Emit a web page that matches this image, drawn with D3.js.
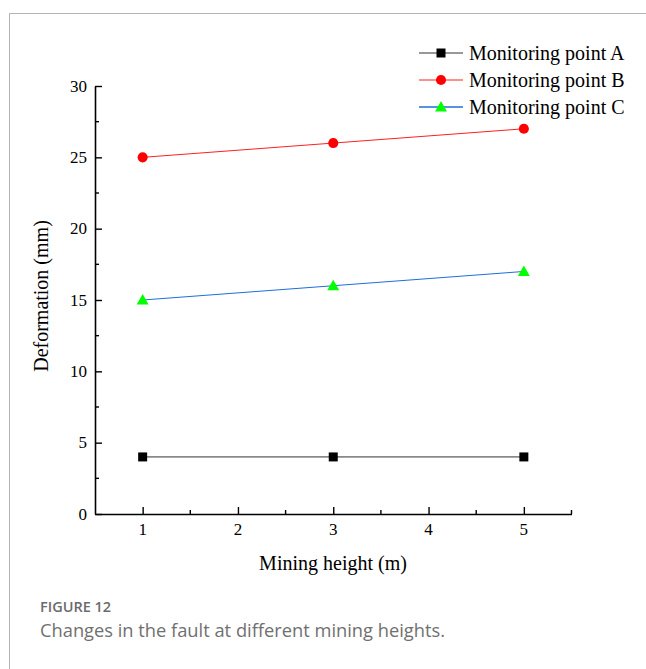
<!DOCTYPE html>
<html>
<head>
<meta charset="utf-8">
<script src="https://cdn.jsdelivr.net/npm/d3@7"></script>
<style>
  html, body { margin: 0; padding: 0; background: #fff; }
  svg { display: block; }
  .serif-text { font-family: "Liberation Serif", "Times New Roman", serif !important; }
</style>
</head>
<body>
<svg id="chart" width="646" height="669"></svg>
<script>
// Mining height (m) at which each monitoring point was measured
const heights = [1, 3, 5];
const seriesNames = ["Monitoring point A", "Monitoring point B", "Monitoring point C"];
const pointA = [4, 4, 4];
const pointB = [25, 26, 27];
const pointC = [15, 16, 17];
const xTicks = [1, 2, 3, 4, 5];
const yTicks = [0, 5, 10, 15, 20, 25, 30];

const svg = d3.select("#chart");
const serif = "Liberation Serif, Times New Roman, serif";
const sans = "Open Sans, Noto Sans, sans-serif";

// Figure frame (top and left border)
svg.append("path")
  .attr("d", "M9.5,669 V13.5 H646")
  .attr("fill", "none").attr("stroke", "#b3b3b3").attr("stroke-width", 1);

const x = d3.scaleLinear().domain([0.5, 5.5]).range([95, 571.5]);
const y = d3.scaleLinear().domain([0, 30]).range([514, 86]);

const series = [
  { name: seriesNames[0], values: pointA, line: "#333333", fill: "#000000", shape: d3.symbolSquare, size: 81 },
  { name: seriesNames[1], values: pointB, line: "#ff2020", fill: "#ff0000", shape: d3.symbolCircle, size: 80 },
  { name: seriesNames[2], values: pointC, line: "#1e6fd9", fill: "#00ff00", shape: d3.symbolTriangle, size: 62 }
];

// Axes with inward ticks; labels are written by hand below in the serif face
const xAxis = d3.axisBottom(x).tickValues(xTicks).tickSizeInner(-7).tickSizeOuter(0).tickFormat("");
const yAxis = d3.axisLeft(y).tickValues(yTicks).tickSizeInner(-7).tickSizeOuter(0).tickFormat("");

const gx = svg.append("g").attr("transform", `translate(0,${y(0)})`).call(xAxis);
const gy = svg.append("g").attr("transform", `translate(${x(0.5)},0)`).call(yAxis);

[gx, gy].forEach(g => {
  g.select(".domain").attr("stroke", "#000").attr("stroke-width", 1.6);
  g.selectAll(".tick line").attr("stroke", "#000").attr("stroke-width", 1.4);
  g.selectAll(".tick text").remove();
});

// Tick labels
svg.append("g").selectAll("text").data(xTicks).enter().append("text")
  .attr("class", "serif-text")
  .attr("x", d => x(d)).attr("y", y(0) + 21)
  .attr("text-anchor", "middle").attr("font-size", 17).attr("fill", "#000")
  .text(d => d3.format("d")(d));
svg.append("g").selectAll("text").data(yTicks).enter().append("text")
  .attr("class", "serif-text")
  .attr("x", x(0.5) - 8).attr("y", d => y(d)).attr("dy", "0.34em")
  .attr("text-anchor", "end").attr("font-size", 17).attr("fill", "#000")
  .text(d => d3.format("d")(d));

// Minor ticks
const xMinor = [1.5, 2.5, 3.5, 4.5, 5.5];
const yMinor = [2.5, 7.5, 12.5, 17.5, 22.5, 27.5];
gx.selectAll(".minor").data(xMinor).enter().append("line")
  .attr("x1", d => x(d)).attr("x2", d => x(d)).attr("y1", 0).attr("y2", -4)
  .attr("stroke", "#000").attr("stroke-width", 1.4);
gy.selectAll(".minor").data(yMinor).enter().append("line")
  .attr("y1", d => y(d)).attr("y2", d => y(d)).attr("x1", 0).attr("x2", 4)
  .attr("stroke", "#000").attr("stroke-width", 1.4);

// Axis titles
svg.append("text").attr("x", 333).attr("y", 570).attr("text-anchor", "middle")
  .attr("class", "serif-text").attr("font-size", 20).attr("fill", "#000")
  .text("Mining height (m)");
svg.append("text").attr("transform", "translate(48,296) rotate(-90)").attr("text-anchor", "middle")
  .attr("class", "serif-text").attr("font-size", 20).attr("fill", "#000")
  .text("Deformation (mm)");

// Series lines and markers
const line = d3.line().x((d, i) => x(heights[i])).y(d => y(d));
series.forEach(s => {
  svg.append("path").datum(s.values).attr("d", line)
    .attr("fill", "none").attr("stroke", s.line).attr("stroke-width", 1);
  svg.selectAll(null).data(s.values).enter().append("path")
    .attr("transform", (d, i) => `translate(${x(heights[i])},${y(d) + (s.shape === d3.symbolTriangle ? 1 : 0)})`)
    .attr("d", d3.symbol().type(s.shape).size(s.size))
    .attr("fill", s.fill);
});

// Legend
const legend = svg.append("g");
series.forEach((s, i) => {
  const ly = 53 + i * 27;
  legend.append("line").attr("x1", 419).attr("x2", 463).attr("y1", ly).attr("y2", ly)
    .attr("stroke", s.line).attr("stroke-width", s.shape === d3.symbolTriangle ? 1.6 : 1);
  legend.append("path").attr("transform", `translate(441,${ly + (s.shape === d3.symbolTriangle ? 1 : 0)})`)
    .attr("d", d3.symbol().type(s.shape).size(s.size)).attr("fill", s.fill);
  legend.append("text").attr("x", 469).attr("y", ly + 7)
    .attr("class", "serif-text").attr("font-size", 20).attr("fill", "#000")
    .text(s.name);
});

// Caption
svg.append("text").attr("x", 40).attr("y", 612)
  .attr("font-family", sans).attr("font-size", 14.5)
  .attr("font-weight", 600).attr("fill", "#6b6b6b")
  .text("FIGURE 12");
svg.append("text").attr("x", 40).attr("y", 637)
  .attr("font-family", sans).attr("font-size", 18.3)
  .attr("fill", "#707070")
  .text("Changes in the fault at different mining heights.");
</script>
</body>
</html>
